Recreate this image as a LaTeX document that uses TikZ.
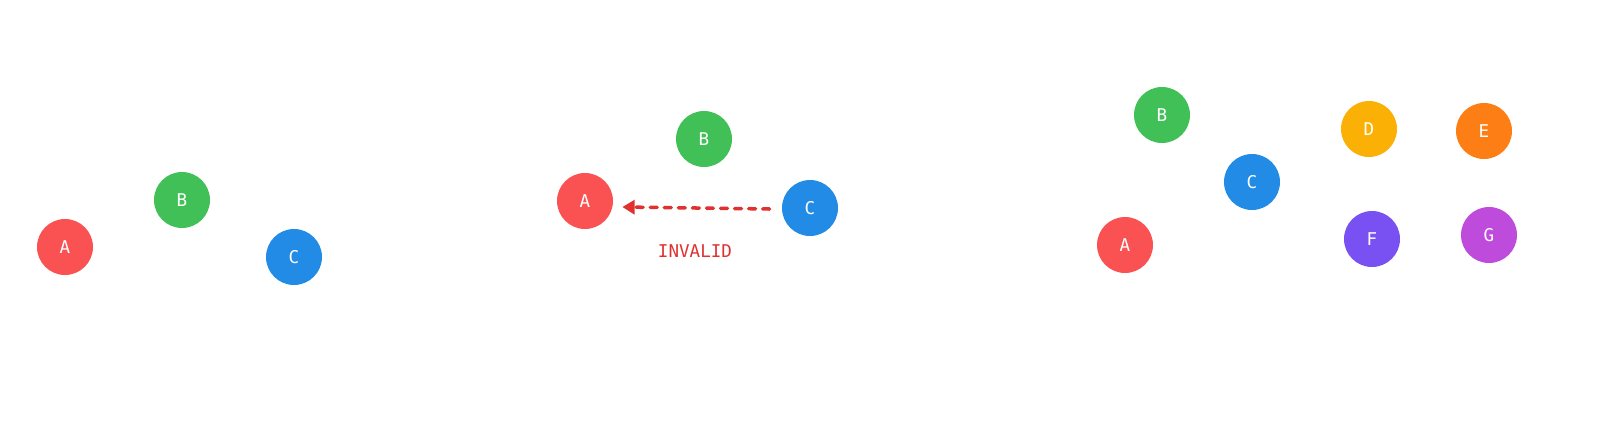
\documentclass[tikz,border=0pt]{standalone}
\usepackage{fontspec}
\setmonofont{DejaVu Sans Mono}
\usepackage{tikz}
\usetikzlibrary{arrows.meta}
\definecolor{cred}{HTML}{FA5252}
\definecolor{cgreen}{HTML}{40C057}
\definecolor{cblue}{HTML}{228BE6}
\definecolor{cyellow}{HTML}{FAB005}
\definecolor{corange}{HTML}{FD7E14}
\definecolor{cviolet}{HTML}{7950F2}
\definecolor{cpurple}{HTML}{BE4BDB}
\definecolor{cline}{HTML}{E03131}
\begin{document}
\begin{tikzpicture}[x=0.02cm,y=-0.02cm,
  dot/.style={circle,minimum size=1.12cm,inner sep=0pt,text=white,font=\ttfamily}]
\useasboundingbox (0,0) rectangle (1600,426);

% left group
\node [dot,fill=cred] (a1) at (65,247) {A};
\node [dot,fill=cgreen] (b1) at (182,200) {B};
\node [dot,fill=cblue] (c1) at (294,257) {C};

% middle group
\node [dot,fill=cred] (a2) at (585,201) {A};
\node [dot,fill=cgreen] (b2) at (704,139) {B};
\node [dot,fill=cblue] (c2) at (810,208) {C};
\coordinate (s) at ([shift={(-12,1)}]c2.west);
\coordinate (t) at ([shift={(9,6)}]a2.east);
\draw [cline,line width=2pt,line cap=round,dash pattern=on 4pt off 4pt,-{Triangle[length=7pt,width=8pt]}] (s) -- (t);
\node [text=cline,font=\ttfamily] (inv) at (695,251) {INVALID};

% right group
\node [dot,fill=cred] (a3) at (1125,245) {A};
\node [dot,fill=cgreen] (b3) at (1162,115) {B};
\node [dot,fill=cblue] (c3) at (1252,182) {C};
\node [dot,fill=cyellow] (d3) at (1369,129) {D};
\node [dot,fill=corange] (e3) at (1484,131) {E};
\node [dot,fill=cviolet] (f3) at (1372,239) {F};
\node [dot,fill=cpurple] (g3) at (1489,235) {G};
\end{tikzpicture}
\end{document}
